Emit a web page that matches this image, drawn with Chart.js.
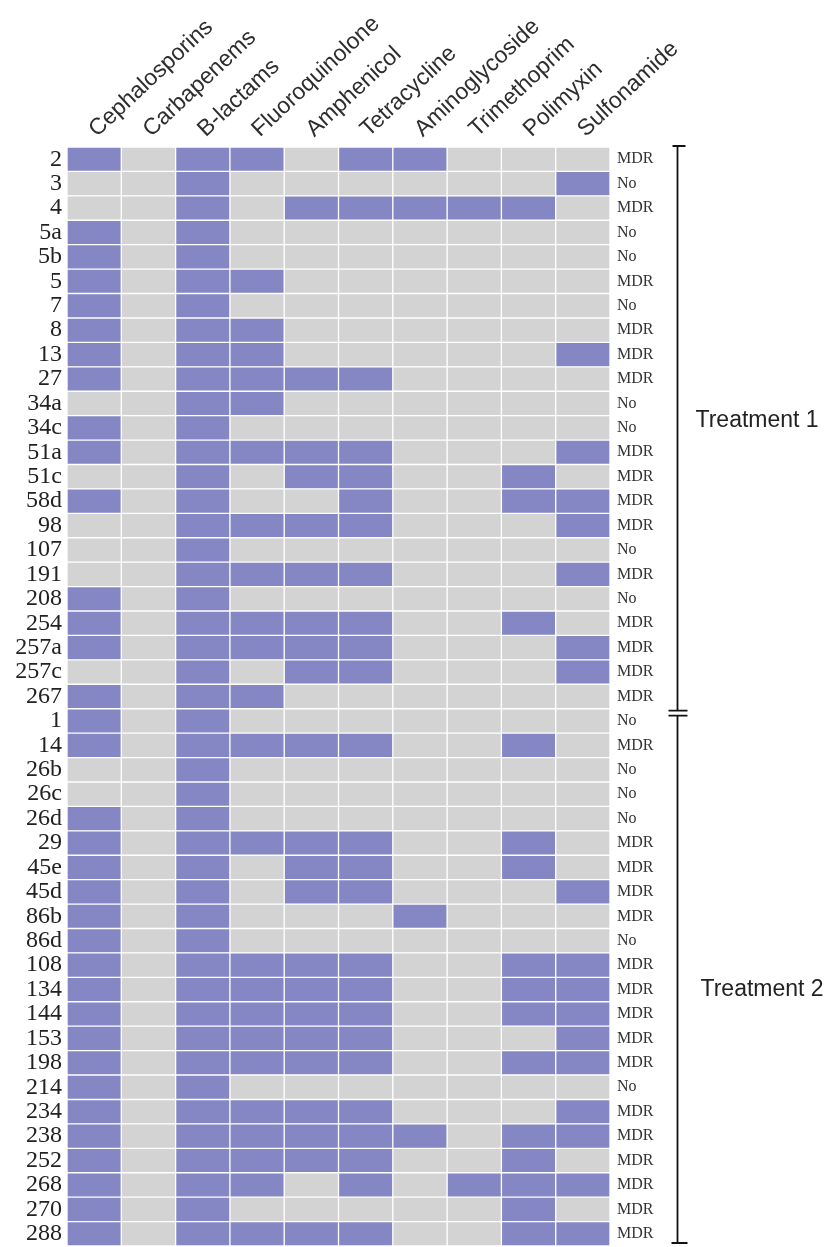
<!DOCTYPE html>
<html>
<head>
<meta charset="utf-8">
<title>Antibiotic resistance profiles by isolate</title>
<script src="https://cdn.jsdelivr.net/npm/chart.js@4/dist/chart.umd.min.js"></script>
<style>
  html, body { margin: 0; padding: 0; background: #ffffff; }
  #wrap { position: relative; width: 837px; height: 1247px; }
</style>
</head>
<body>
<div id="wrap"><canvas id="chart"></canvas></div>
<script>
// Antibiotic classes (columns)
const antibiotics = ['Cephalosporins', 'Carbapenems', 'B-lactams', 'Fluoroquinolone', 'Amphenicol',
  'Tetracycline', 'Aminoglycoside', 'Trimethoprim', 'Polimyxin', 'Sulfonamide'];

// Isolates (rows), top to bottom
const isolates = ['2', '3', '4', '5a', '5b', '5', '7', '8', '13', '27', '34a', '34c', '51a', '51c', '58d',
  '98', '107', '191', '208', '254', '257a', '257c', '267',
  '1', '14', '26b', '26c', '26d', '29', '45e', '45d', '86b', '86d', '108', '134', '144', '153', '198',
  '214', '234', '238', '252', '268', '270', '288'];

// Multidrug-resistance call per isolate
const mdrStatus = ['MDR', 'No', 'MDR', 'No', 'No', 'MDR', 'No', 'MDR', 'MDR', 'MDR', 'No', 'No', 'MDR', 'MDR', 'MDR',
  'MDR', 'No', 'MDR', 'No', 'MDR', 'MDR', 'MDR', 'MDR',
  'No', 'MDR', 'No', 'No', 'No', 'MDR', 'MDR', 'MDR', 'MDR', 'No', 'MDR', 'MDR', 'MDR', 'MDR', 'MDR',
  'No', 'MDR', 'MDR', 'MDR', 'MDR', 'MDR', 'MDR'];

// Resistance (1) / susceptibility (0), one row per isolate, columns in antibiotic order
const resistance = [
  [1,0,1,1,0,1,1,0,0,0], // 2
  [0,0,1,0,0,0,0,0,0,1], // 3
  [0,0,1,0,1,1,1,1,1,0], // 4
  [1,0,1,0,0,0,0,0,0,0], // 5a
  [1,0,1,0,0,0,0,0,0,0], // 5b
  [1,0,1,1,0,0,0,0,0,0], // 5
  [1,0,1,0,0,0,0,0,0,0], // 7
  [1,0,1,1,0,0,0,0,0,0], // 8
  [1,0,1,1,0,0,0,0,0,1], // 13
  [1,0,1,1,1,1,0,0,0,0], // 27
  [0,0,1,1,0,0,0,0,0,0], // 34a
  [1,0,1,0,0,0,0,0,0,0], // 34c
  [1,0,1,1,1,1,0,0,0,1], // 51a
  [0,0,1,0,1,1,0,0,1,0], // 51c
  [1,0,1,0,0,1,0,0,1,1], // 58d
  [0,0,1,1,1,1,0,0,0,1], // 98
  [0,0,1,0,0,0,0,0,0,0], // 107
  [0,0,1,1,1,1,0,0,0,1], // 191
  [1,0,1,0,0,0,0,0,0,0], // 208
  [1,0,1,1,1,1,0,0,1,0], // 254
  [1,0,1,1,1,1,0,0,0,1], // 257a
  [0,0,1,0,1,1,0,0,0,1], // 257c
  [1,0,1,1,0,0,0,0,0,0], // 267
  [1,0,1,0,0,0,0,0,0,0], // 1
  [1,0,1,1,1,1,0,0,1,0], // 14
  [0,0,1,0,0,0,0,0,0,0], // 26b
  [0,0,1,0,0,0,0,0,0,0], // 26c
  [1,0,1,0,0,0,0,0,0,0], // 26d
  [1,0,1,1,1,1,0,0,1,0], // 29
  [1,0,1,0,1,1,0,0,1,0], // 45e
  [1,0,1,0,1,1,0,0,0,1], // 45d
  [1,0,1,0,0,0,1,0,0,0], // 86b
  [1,0,1,0,0,0,0,0,0,0], // 86d
  [1,0,1,1,1,1,0,0,1,1], // 108
  [1,0,1,1,1,1,0,0,1,1], // 134
  [1,0,1,1,1,1,0,0,1,1], // 144
  [1,0,1,1,1,1,0,0,0,1], // 153
  [1,0,1,1,1,1,0,0,1,1], // 198
  [1,0,1,0,0,0,0,0,0,0], // 214
  [1,0,1,1,1,1,0,0,0,1], // 234
  [1,0,1,1,1,1,1,0,1,1], // 238
  [1,0,1,1,1,1,0,0,1,0], // 252
  [1,0,1,1,0,1,0,1,1,1], // 268
  [1,0,1,0,0,0,0,0,1,0], // 270
  [1,0,1,1,1,1,0,0,1,1]  // 288
];

// Treatment groups, in row order
const treatments = ['Treatment 1', 'Treatment 2'];
const treatmentSizes = [23, 22];

const RESISTANT = '#8487c4';
const SUSCEPTIBLE = '#d3d3d3';

// One dataset per antibiotic: each cell is a floating bar spanning its column
const datasets = antibiotics.map((name, j) => ({
  label: name,
  data: isolates.map(() => [j, j + 1]),
  backgroundColor: isolates.map((_, i) => resistance[i][j] ? RESISTANT : SUSCEPTIBLE),
  borderColor: '#ffffff',
  borderWidth: 1,
  borderSkipped: false,
  barPercentage: 1,
  categoryPercentage: 1,
  grouped: false
}));

// Bracket with group names to the right of the status column
const treatmentBracket = {
  id: 'treatmentBracket',
  afterDraw(chart) {
    const { ctx, chartArea, scales: { y } } = chart;
    const step = y.getPixelForValue(1) - y.getPixelForValue(0);
    const x = chartArea.right + 67.5;
    ctx.save();
    ctx.strokeStyle = '#111111';
    ctx.lineWidth = 1.8;
    ctx.fillStyle = '#222222';
    ctx.font = '23px "Liberation Sans", Arial, sans-serif';
    ctx.textBaseline = 'middle';
    ctx.textAlign = 'left';
    let start = 0;
    treatments.forEach((name, g) => {
      const end = start + treatmentSizes[g] - 1;
      const top = y.getPixelForValue(start) - step / 2;
      const bottom = y.getPixelForValue(end) + step / 2;
      const first = g === 0;
      const last = g === treatments.length - 1;
      const yTop = first ? top - 1 : top + 7;
      const yBot = last ? bottom - 3 : bottom + 2;
      ctx.beginPath();
      ctx.moveTo(x, yTop);
      ctx.lineTo(x, yBot);
      // caps
      ctx.moveTo(first ? x - 5 : x - 9, yTop);
      ctx.lineTo(first ? x + 8 : x + 10, yTop);
      ctx.moveTo(last ? x - 6 : x - 9, yBot);
      ctx.lineTo(x + 10, yBot);
      ctx.stroke();
      ctx.fillText(name, x + 18 + g * 5, (top + bottom) / 2 + (first ? -7 : 12));
      start += treatmentSizes[g];
    });
    ctx.restore();
  }
};

// Row axes keep no extra end padding so the grid runs to the canvas edge
function fixRowAxis(width) {
  return (scale) => {
    scale.width = width;
    scale.paddingTop = 0;
    scale.paddingBottom = 0;
  };
}

new Chart(document.getElementById('chart'), {
  type: 'bar',
  data: { labels: isolates, datasets },
  plugins: [treatmentBracket],
  options: {
    indexAxis: 'y',
    responsive: true,
    maintainAspectRatio: false,
    animation: false,
    events: [],
    layout: { padding: { top: 0, bottom: 1, left: 0, right: 0 } },
    plugins: { legend: { display: false }, tooltip: { enabled: false } },
    scales: {
      x: {
        type: 'linear',
        position: 'top',
        min: 0,
        max: antibiotics.length,
        grid: { display: false, drawTicks: false },
        border: { display: false },
        // label anchors sit a little right of each column centre
        afterBuildTicks(scale) {
          scale.ticks = antibiotics.map((_, i) => ({ value: i + 0.82 }));
        },
        afterFit(scale) { scale.height = 147; },
        ticks: {
          autoSkip: false,
          minRotation: 43,
          maxRotation: 43,
          padding: 4,
          color: '#2e2e2e',
          font: { family: '"Liberation Sans", Arial, sans-serif', size: 23 },
          callback: (value) => antibiotics[Math.floor(value)]
        }
      },
      y: {
        type: 'category',
        position: 'left',
        offset: true,
        grid: { display: false, drawTicks: false },
        border: { display: false },
        afterFit: fixRowAxis(67),
        ticks: {
          autoSkip: false,
          padding: 5,
          color: '#222222',
          font: { family: '"Liberation Serif", "Times New Roman", serif', size: 24 }
        }
      },
      status: {
        type: 'category',
        position: 'right',
        display: true,
        labels: mdrStatus,
        offset: true,
        grid: { display: false, drawTicks: false },
        border: { display: false },
        afterFit: fixRowAxis(227),
        ticks: {
          autoSkip: false,
          padding: 7,
          color: '#333333',
          font: { family: '"Liberation Serif", "Times New Roman", serif', size: 16 }
        }
      }
    }
  }
});
</script>
</body>
</html>
